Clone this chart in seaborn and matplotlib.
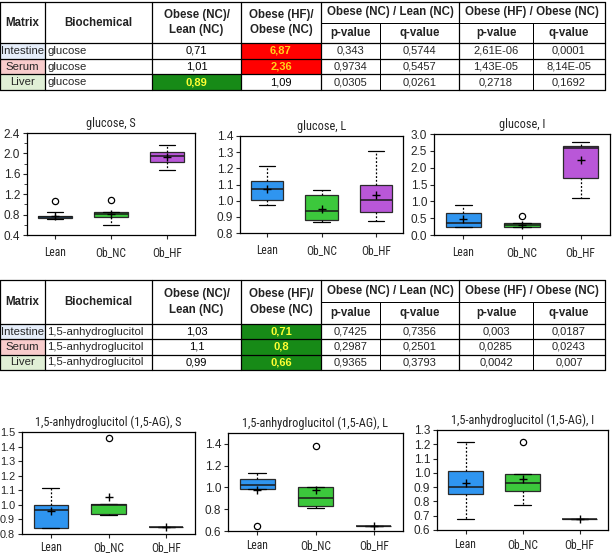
import matplotlib
matplotlib.use("Agg")
import matplotlib.pyplot as plt
import seaborn as sns
from matplotlib.patches import Rectangle
from matplotlib.ticker import MultipleLocator, FormatStrFormatter
from matplotlib import font_manager

sns.set_style("white")
plt.rcParams['font.family'] = ['Liberation Sans', 'DejaVu Sans']


def pick_narrow():
    fl = font_manager.fontManager.ttflist
    for want in ('Liberation Sans Narrow', 'Arial Narrow', 'Roboto Condensed', 'Noto Sans Condensed',
                 'Noto Sans SemiCondensed', 'Open Sans Condensed'):
        for f in fl:
            if f.name == want and f.weight in (400, 'normal', 'regular'):
                return dict(family=[want, 'DejaVu Sans']), True
    for base in ('Liberation Sans', 'Noto Sans', 'Roboto', 'Open Sans', 'DejaVu Sans'):
        for f in fl:
            if f.name == base and f.stretch in ('condensed', 'semi-condensed') and 'Bold' not in f.fname \
                    and 'Oblique' not in f.fname and 'Italic' not in f.fname:
                return dict(family=[base], stretch=f.stretch), True
    return dict(family=['Liberation Sans', 'DejaVu Sans']), False


NARROW, HAVE_NARROW = pick_narrow()

groups = ["Lean", "Ob_NC", "Ob_HF"]
box_colors = ["#2f95f0", "#3cc83c", "#b957d8"]

# ---- table values ----
matrix = ["Intestine", "Serum", "Liver"]
glu_name = ["glucose", "glucose", "glucose"]
glu_ratio_nc = ["0,71", "1,01", "0,89"]
glu_ratio_hf = ["6,87", "2,36", "1,09"]
glu_p_nc = ["0,343", "0,9734", "0,0305"]
glu_q_nc = ["0,5744", "0,5457", "0,0261"]
glu_p_hf = ["2,61E-06", "1,43E-05", "0,2718"]
glu_q_hf = ["0,0001", "8,14E-05", "0,1692"]

ag_name = ["1,5-anhydroglucitol"] * 3
ag_ratio_nc = ["1,03", "1,1", "0,99"]
ag_ratio_hf = ["0,71", "0,8", "0,66"]
ag_p_nc = ["0,7425", "0,2987", "0,9365"]
ag_q_nc = ["0,7356", "0,2501", "0,3793"]
ag_p_hf = ["0,003", "0,0285", "0,0042"]
ag_q_hf = ["0,0187", "0,0243", "0,007"]

# ---- box stats per group: [whisker low, q1, median, q3, whisker high] ----
glu_s = [[0.71, 0.735, 0.76, 0.78, 0.86], [0.60, 0.75, 0.81, 0.85, 0.85], [1.68, 1.84, 1.94, 2.02, 2.16]]
glu_s_mean = [0.77, 0.81, 1.93]
glu_s_out = [[1.07], [1.09], []]

glu_l = [[0.975, 1.005, 1.071, 1.12, 1.215], [0.866, 0.882, 0.934, 1.032, 1.063], [0.874, 0.931, 1.005, 1.098, 1.31]]
glu_l_mean = [1.075, 0.95, 1.038]
glu_l_out = [[], [], []]

glu_i = [[0.23, 0.23, 0.35, 0.665, 0.88], [0.24, 0.24, 0.29, 0.36, 0.36], [1.09, 1.69, 2.58, 2.63, 2.75]]
glu_i_mean = [0.48, 0.30, 2.22]
glu_i_out = [[], [0.57], []]

ag_s = [[0.843, 0.843, 0.964, 0.998, 1.119], [0.928, 0.937, 1.0, 1.005, 1.005], [0.848, 0.848, 0.848, 0.848, 0.848]]
ag_s_mean = [0.955, 1.055, 0.848]
ag_s_out = [[], [1.46], []]

ag_l = [[0.988, 0.988, 1.027, 1.073, 1.131], [0.811, 0.829, 0.905, 1.0, 1.0], [0.646, 0.646, 0.646, 0.646, 0.646]]
ag_l_mean = [0.979, 0.973, 0.646]
ag_l_out = [[0.643], [1.379], []]

ag_i = [[0.677, 0.852, 0.903, 1.013, 1.216], [0.777, 0.873, 0.929, 0.99, 0.99], [0.675, 0.675, 0.675, 0.675, 0.675]]
ag_i_mean = [0.927, 0.957, 0.675]
ag_i_out = [[], [1.218], []]

W, H = 615, 556
fig = plt.figure(figsize=(W / 100, H / 100), dpi=100)
fig.patch.set_facecolor("white")

tab = fig.add_axes([0, 0, 1, 1], zorder=0)
tab.set_xlim(0, W)
tab.set_ylim(H, 0)
tab.axis("off")

cols = [0, 45, 152, 241, 321, 380, 459, 533, 605]
matrix_bg = ["#e6eefa", "#f8cccc", "#e0efd6"]


def num(s):
    return float(s.replace(",", "."))


def draw_table(top, mid, head, row_h, bio, r_nc, r_hf, p_nc, q_nc, p_hf, q_hf):
    bottom = head + row_h * 3
    lw = 0.9
    # cell backgrounds
    for i in range(3):
        y0 = head + i * row_h
        tab.add_patch(Rectangle((cols[0], y0), cols[1] - cols[0], row_h, color=matrix_bg[i], lw=0))
        for c, ratios, pv in ((2, r_nc, p_nc), (3, r_hf, p_hf)):
            v, p = num(ratios[i]), num(pv[i])
            if p < 0.05:
                fc = "#ff0000" if v > 1 else "#178a17"
                tab.add_patch(Rectangle((cols[c], y0), cols[c + 1] - cols[c], row_h, color=fc, lw=0))
    # lines
    tab.plot([cols[0], cols[-1]], [top, top], color="black", lw=lw)
    for k in range(4):
        yy = head + k * row_h
        tab.plot([cols[0], cols[-1]], [yy, yy], color="black", lw=lw)
    tab.plot([cols[4], cols[-1]], [mid, mid], color="black", lw=lw * 0.8)
    for j, x in enumerate(cols):
        if j in (5, 7):
            tab.plot([x, x], [mid, bottom], color="black", lw=lw * 0.8)
        else:
            tab.plot([x, x], [top, bottom], color="black", lw=lw)
    # header text
    hy = (top + head) / 2
    hk = dict(fontsize=8.3, fontweight="bold", ha="center", va="center", color="#222222")
    tab.text((cols[0] + cols[1]) / 2, hy, "Matrix", **hk)
    tab.text((cols[1] + cols[2]) / 2, hy, "Biochemical", **hk)
    tab.text((cols[2] + cols[3]) / 2, hy, "Obese (NC)/\nLean (NC)", linespacing=1.4, **hk)
    tab.text((cols[3] + cols[4]) / 2, hy, "Obese (HF)/\nObese (NC)", linespacing=1.4, **hk)
    tab.text((cols[4] + cols[6]) / 2, (top + mid) / 2, "Obese (NC) / Lean (NC)", **hk)
    tab.text((cols[6] + cols[8]) / 2, (top + mid) / 2, "Obese (HF) / Obese (NC)", **hk)
    for j, lab in zip(range(4, 8), ["p-value", "q-value", "p-value", "q-value"]):
        tab.text((cols[j] + cols[j + 1]) / 2, (mid + head) / 2, lab, **hk)
    # body text
    for i in range(3):
        yc = head + (i + 0.5) * row_h
        tab.text((cols[0] + cols[1]) / 2, yc, matrix[i], fontsize=8.2, ha="center", va="center")
        tab.text(cols[1] + 2, yc, bio[i], fontsize=8.2, ha="left", va="center")
        for c, vals, pv in ((2, r_nc, p_nc), (3, r_hf, p_hf)):
            sig = num(pv[i]) < 0.05
            if sig:
                tc = "#ffd21a" if num(vals[i]) > 1 else "#ffff33"
            else:
                tc = "black"
            tab.text((cols[c] + cols[c + 1]) / 2, yc, vals[i], fontsize=8, ha="center", va="center",
                     color=tc, fontweight="bold" if sig else "normal")
        for c, vals in zip(range(4, 8), (p_nc, q_nc, p_hf, q_hf)):
            tab.text((cols[c] + cols[c + 1]) / 2, yc, vals[i], fontsize=8, ha="center", va="center")


draw_table(2, 23, 43, 15.7, glu_name, glu_ratio_nc, glu_ratio_hf, glu_p_nc, glu_q_nc, glu_p_hf, glu_q_hf)
draw_table(280, 302, 324, 15.3, ag_name, ag_ratio_nc, ag_ratio_hf, ag_p_nc, ag_q_nc, ag_p_hf, ag_q_hf)

xl_size = 8.3 if HAVE_NARROW else 7.2
tt_size = 8.8 if HAVE_NARROW else 7.6


def box_ax(px, title, stats, means, outs, ylim, step, minor=None, ysize=8.5, xpad=5):
    left, right, top, bottom = px
    ax = fig.add_axes([left / W, 1 - bottom / H, (right - left) / W, (bottom - top) / H])
    bs = []
    for g, s, m, o in zip(groups, stats, means, outs):
        bs.append(dict(label=g, whislo=s[0], q1=s[1], med=s[2], q3=s[3], whishi=s[4], mean=m, fliers=o))
    res = ax.bxp(bs, positions=[1, 2, 3], widths=0.6, capwidths=0.3, patch_artist=True, showmeans=True,
                 boxprops=dict(edgecolor="#2a2a2a", lw=0.9),
                 whiskerprops=dict(color="black", lw=0.9, linestyle=(0, (1.5, 1.5))),
                 capprops=dict(color="black", lw=0.9),
                 medianprops=dict(color="#1a1a1a", lw=1.1),
                 meanprops=dict(marker="+", markeredgecolor="black", markersize=6, markeredgewidth=1),
                 flierprops=dict(marker="o", markerfacecolor="white", markeredgecolor="black",
                                 markersize=4.5, markeredgewidth=0.9))
    for patch, c in zip(res["boxes"], box_colors):
        patch.set_facecolor(c)
    ax.set_xlim(0.5, 3.5)
    ax.set_ylim(*ylim)
    ax.yaxis.set_major_locator(MultipleLocator(step))
    if minor:
        ax.yaxis.set_minor_locator(MultipleLocator(minor))
    ax.yaxis.set_major_formatter(FormatStrFormatter("%.1f"))
    ax.set_xticks([1, 2, 3])
    ax.set_xticklabels(groups)
    ax.tick_params(axis="both", which="major", direction="out", length=3, width=0.8, pad=2,
                   left=True, bottom=True)
    ax.tick_params(axis="y", labelsize=ysize)
    ax.tick_params(axis="x", pad=xpad, labelsize=xl_size)
    ax.tick_params(axis="y", which="minor", direction="out", length=2, width=0.6, left=True)
    for lab in ax.get_xticklabels():
        lab.set(**NARROW)
    for sp in ax.spines.values():
        sp.set_color("black")
        sp.set_linewidth(0.9)
    ax.set_title(title, fontsize=tt_size, pad=4, **NARROW)
    ax.set_facecolor("white")
    return ax


box_ax((27, 195, 133, 235), "glucose, S", glu_s, glu_s_mean, glu_s_out, (0.4, 2.4), 0.4, 0.2)
box_ax((240, 403, 136, 233), "glucose, L", glu_l, glu_l_mean, glu_l_out, (0.8, 1.4), 0.1)
box_ax((434, 610, 134, 235), "glucose, I", glu_i, glu_i_mean, glu_i_out, (0.0, 3.0), 0.5)
box_ax((22, 195, 432, 534), "1,5-anhydroglucitol (1,5-AG), S", ag_s, ag_s_mean, ag_s_out, (0.8, 1.5), 0.1,
       None, 7.8, 2)
box_ax((228, 403, 433, 531), "1,5-anhydroglucitol (1,5-AG), L", ag_l, ag_l_mean, ag_l_out, (0.6, 1.5), 0.2,
       None, 8.5, 3)
box_ax((437, 608, 430, 530), "1,5-anhydroglucitol (1,5-AG), I", ag_i, ag_i_mean, ag_i_out, (0.6, 1.3), 0.1,
       None, 8.5, 3)

fig.savefig("out.png", dpi=100, facecolor="white")
